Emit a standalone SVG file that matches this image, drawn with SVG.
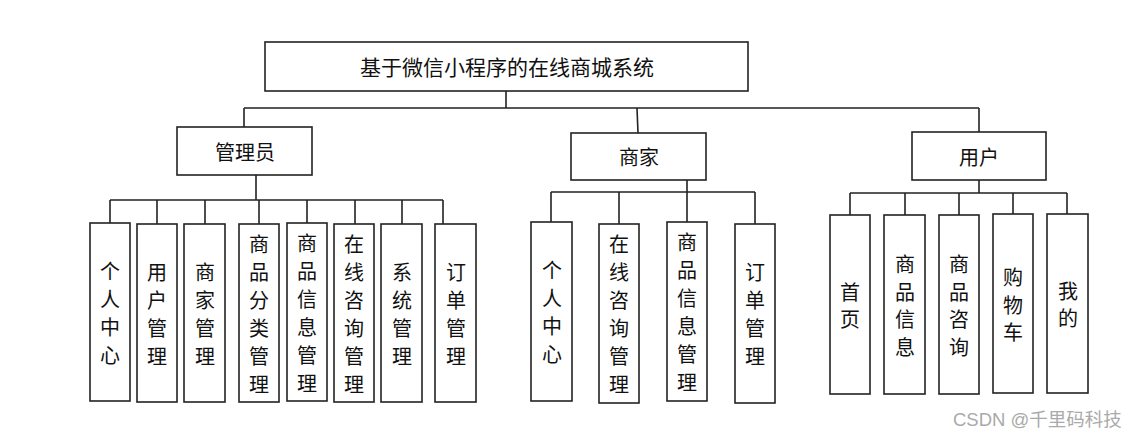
<svg xmlns="http://www.w3.org/2000/svg" width="1139" height="437" viewBox="0 0 1139 437">
<style>
.box{fill:#fff;stroke:#222;stroke-width:1.6}
.ln{fill:none;stroke:#222;stroke-width:1.6}
text{font-family:"Noto Sans CJK SC","Noto Sans",sans-serif;fill:#111;text-anchor:middle;dominant-baseline:central}
.t{font-size:21px}
.n{font-size:20px}
.wm{font-family:"Liberation Sans","Noto Sans CJK SC",sans-serif;font-size:18.5px;fill:#aaa;text-anchor:start;dominant-baseline:auto}
</style>
<rect width="1139" height="437" fill="#fff"/>
<g id="connectors">
<path class="ln" d="M506,91V108M244,108H979M244,108V127M637,108L638,133M979,108V132"/>
<path class="ln" d="M256,175V200M110,200H443M110,200V223M157,200V224M205,200V224M259,200V224M307,200V223M355,200V224M402,200V224M443,200V224"/>
<path class="ln" d="M687,180V192M551,192H755M551,192V222M619,192V224M687,192V222M755,192V224"/>
<path class="ln" d="M979,180V193M850,193H1067M850,193V215M905,193V215M959,193V215M1013,193V214M1067,193V214"/>
</g>
<g id="root"><rect class="box" x="265" y="42" width="483" height="49"/><text class="t" x="507" y="66">基于微信小程序的在线商城系统</text></g>
<g id="admin"><rect class="box" x="177" y="127" width="135" height="48"/><text class="n" x="245" y="151">管理员</text></g>
<g id="merchant"><rect class="box" x="571" y="133" width="135" height="47"/><text class="n" x="639" y="156">商家</text></g>
<g id="user"><rect class="box" x="912" y="132" width="134" height="48"/><text class="n" x="979" y="156">用户</text></g>

<g id="a1"><rect class="box" x="90" y="223" width="40" height="178"/><text class="n"><tspan x="110" y="270">个</tspan><tspan x="110" dy="28">人</tspan><tspan x="110" dy="28">中</tspan><tspan x="110" dy="28">心</tspan></text></g>
<g id="a2"><rect class="box" x="137" y="224" width="40" height="178"/><text class="n"><tspan x="157" y="271">用</tspan><tspan x="157" dy="28">户</tspan><tspan x="157" dy="28">管</tspan><tspan x="157" dy="28">理</tspan></text></g>
<g id="a3"><rect class="box" x="184" y="224" width="41" height="178"/><text class="n"><tspan x="205" y="271">商</tspan><tspan x="205" dy="28">家</tspan><tspan x="205" dy="28">管</tspan><tspan x="205" dy="28">理</tspan></text></g>
<g id="a4"><rect class="box" x="239" y="224" width="40" height="178"/><text class="n"><tspan x="259" y="243">商</tspan><tspan x="259" dy="28">品</tspan><tspan x="259" dy="28">分</tspan><tspan x="259" dy="28">类</tspan><tspan x="259" dy="28">管</tspan><tspan x="259" dy="28">理</tspan></text></g>
<g id="a5"><rect class="box" x="287" y="223" width="40" height="178"/><text class="n"><tspan x="307" y="242">商</tspan><tspan x="307" dy="28">品</tspan><tspan x="307" dy="28">信</tspan><tspan x="307" dy="28">息</tspan><tspan x="307" dy="28">管</tspan><tspan x="307" dy="28">理</tspan></text></g>
<g id="a6"><rect class="box" x="334" y="224" width="40" height="178"/><text class="n"><tspan x="354" y="243">在</tspan><tspan x="354" dy="28">线</tspan><tspan x="354" dy="28">咨</tspan><tspan x="354" dy="28">询</tspan><tspan x="354" dy="28">管</tspan><tspan x="354" dy="28">理</tspan></text></g>
<g id="a7"><rect class="box" x="381" y="224" width="41" height="178"/><text class="n"><tspan x="402" y="271">系</tspan><tspan x="402" dy="28">统</tspan><tspan x="402" dy="28">管</tspan><tspan x="402" dy="28">理</tspan></text></g>
<g id="a8"><rect class="box" x="435" y="224" width="41" height="178"/><text class="n"><tspan x="456" y="271">订</tspan><tspan x="456" dy="28">单</tspan><tspan x="456" dy="28">管</tspan><tspan x="456" dy="28">理</tspan></text></g>

<g id="m1"><rect class="box" x="531" y="222" width="41" height="179"/><text class="n"><tspan x="552" y="269">个</tspan><tspan x="552" dy="28">人</tspan><tspan x="552" dy="28">中</tspan><tspan x="552" dy="28">心</tspan></text></g>
<g id="m2"><rect class="box" x="599" y="224" width="40" height="179"/><text class="n"><tspan x="619" y="243">在</tspan><tspan x="619" dy="28">线</tspan><tspan x="619" dy="28">咨</tspan><tspan x="619" dy="28">询</tspan><tspan x="619" dy="28">管</tspan><tspan x="619" dy="28">理</tspan></text></g>
<g id="m3"><rect class="box" x="667" y="222" width="40" height="179"/><text class="n"><tspan x="687" y="241">商</tspan><tspan x="687" dy="28">品</tspan><tspan x="687" dy="28">信</tspan><tspan x="687" dy="28">息</tspan><tspan x="687" dy="28">管</tspan><tspan x="687" dy="28">理</tspan></text></g>
<g id="m4"><rect class="box" x="735" y="224" width="40" height="179"/><text class="n"><tspan x="755" y="271">订</tspan><tspan x="755" dy="28">单</tspan><tspan x="755" dy="28">管</tspan><tspan x="755" dy="28">理</tspan></text></g>

<g id="u1"><rect class="box" x="830" y="215" width="40" height="179"/><text class="n"><tspan x="850" y="291">首</tspan><tspan x="850" dy="27">页</tspan></text></g>
<g id="u2"><rect class="box" x="884" y="215" width="41" height="179"/><text class="n"><tspan x="905" y="263">商</tspan><tspan x="905" dy="27.5">品</tspan><tspan x="905" dy="27.5">信</tspan><tspan x="905" dy="27.5">息</tspan></text></g>
<g id="u3"><rect class="box" x="939" y="215" width="40" height="179"/><text class="n"><tspan x="959" y="263">商</tspan><tspan x="959" dy="27.5">品</tspan><tspan x="959" dy="27.5">咨</tspan><tspan x="959" dy="27.5">询</tspan></text></g>
<g id="u4"><rect class="box" x="993" y="214" width="40" height="179"/><text class="n"><tspan x="1013" y="276">购</tspan><tspan x="1013" dy="27.5">物</tspan><tspan x="1013" dy="27.5">车</tspan></text></g>
<g id="u5"><rect class="box" x="1047" y="214" width="41" height="179"/><text class="n"><tspan x="1068" y="290">我</tspan><tspan x="1068" dy="27">的</tspan></text></g>

<text class="wm" x="953" y="426">CSDN @千里码科技</text>
</svg>
